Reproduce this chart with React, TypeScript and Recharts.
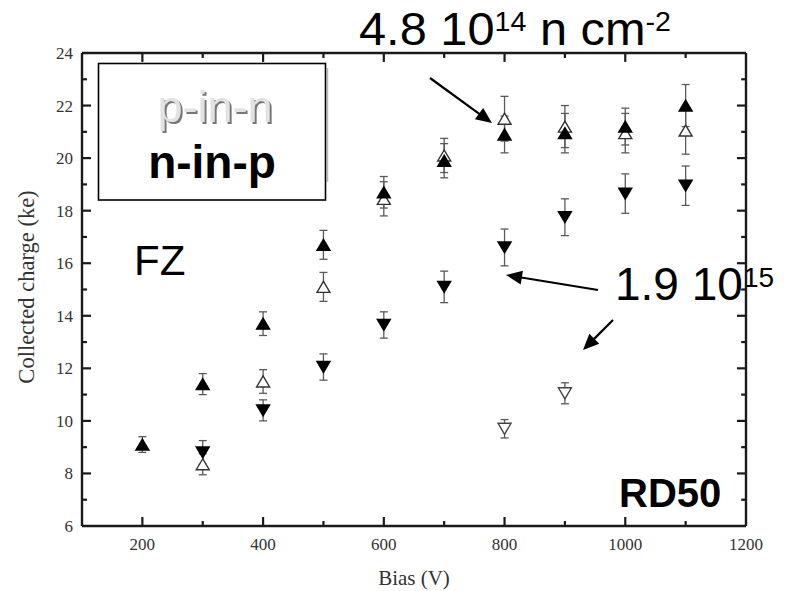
import React from 'react';
import { ScatterChart, Scatter, XAxis, YAxis, ErrorBar, ReferenceLine } from 'recharts';

// n-in-p, 4.8e14 n/cm2 (filled up triangles)
const biasNinP48 = [200, 300, 400, 500, 600, 700, 800, 900, 1000, 1100];
const chargeNinP48 = [9.1, 11.4, 13.7, 16.7, 18.7, 19.9, 20.9, 20.95, 21.2, 22.0];
const errNinP48 = [0.3, 0.4, 0.45, 0.55, 0.6, 0.65, 0.7, 0.75, 0.7, 0.8];

// p-in-n, 4.8e14 n/cm2 (open up triangles)
const biasPinN48 = [300, 400, 500, 600, 700, 800, 900, 1000, 1100];
const chargePinN48 = [8.35, 11.5, 15.1, 18.45, 20.1, 21.5, 21.2, 20.95, 21.05];
const errPinN48 = [0.4, 0.45, 0.55, 0.65, 0.65, 0.85, 0.8, 0.75, 0.9];

// n-in-p, 1.9e15 n/cm2 (filled down triangles)
const biasNinP19 = [300, 400, 500, 600, 700, 800, 900, 1000, 1100];
const chargeNinP19 = [8.8, 10.4, 12.05, 13.65, 15.1, 16.6, 17.75, 18.65, 18.95];
const errNinP19 = [0.45, 0.4, 0.5, 0.5, 0.6, 0.7, 0.7, 0.75, 0.75];

// p-in-n, 1.9e15 n/cm2 (open down triangles)
const biasPinN19 = [800, 900];
const chargePinN19 = [9.7, 11.05];
const errPinN19 = [0.35, 0.4];

const X_MIN = 100;
const X_MAX = 1200;
const Y_MIN = 6;
const Y_MAX = 24;
const xTicks = [100, 200, 300, 400, 500, 600, 700, 800, 900, 1000, 1100, 1200];
const xLabels = [200, 400, 600, 800, 1000, 1200];
const yTicks = [6, 7, 8, 9, 10, 11, 12, 13, 14, 15, 16, 17, 18, 19, 20, 21, 22, 23, 24];
const yLabels = [6, 8, 10, 12, 14, 16, 18, 20, 22, 24];

const build = (xs: number[], ys: number[], es: number[]) =>
  xs.map((x, i) => ({ x, y: ys[i], err: es[i] }));

const dNinP48 = build(biasNinP48, chargeNinP48, errNinP48);
const dPinN48 = build(biasPinN48, chargePinN48, errPinN48);
const dNinP19 = build(biasNinP19, chargeNinP19, errNinP19);
const dPinN19 = build(biasPinN19, chargePinN19, errPinN19);

const FRAME = '#1a1a1a';
const FRAME_W = 2.4;
const TICK_W = 2.2;
const W = 13;
const H = 11;
const MAJOR_PX = 9;
const MINOR_PX = 5;

// tick lengths for the top/right frame expressed in axis units (~9 px / ~5 px)
const X_TICK_MAJOR = 15;
const X_TICK_MINOR = 8;
const Y_TICK_MAJOR = 0.34;
const Y_TICK_MINOR = 0.19;

const innerXTicks = xTicks.filter((v) => v > X_MIN && v < X_MAX);
const innerYTicks = yTicks.filter((v) => v > Y_MIN && v < Y_MAX);

const makeTri = (up: boolean, fill: string, stroke: string) => (props: any) => {
  const { cx, cy } = props;
  if (cx == null || cy == null) return <g />;
  const pts = up
    ? `${cx},${cy - H / 2} ${cx - W / 2},${cy + H / 2} ${cx + W / 2},${cy + H / 2}`
    : `${cx},${cy + H / 2} ${cx - W / 2},${cy - H / 2} ${cx + W / 2},${cy - H / 2}`;
  return <polygon points={pts} fill={fill} stroke={stroke} strokeWidth={1.4} strokeLinejoin="miter" />;
};

const SERIF = "'Liberation Serif', 'Times New Roman', serif";
const SANS = "'Liberation Sans', Arial, sans-serif";
const BAR = '#5a5a5a';

const bottomTick = (props: any) => {
  const { x, y, payload } = props;
  const v = payload.value;
  const major = xLabels.includes(v);
  return (
    <g>
      {v > X_MIN && v < X_MAX && (
        <line x1={x} y1={y} x2={x} y2={y - (major ? MAJOR_PX : MINOR_PX)} stroke={FRAME} strokeWidth={TICK_W} />
      )}
      {major && (
        <text x={x} y={y + 24} textAnchor="middle" fontFamily={SERIF} fontSize={17} fill="#333">
          {v}
        </text>
      )}
    </g>
  );
};

const leftTick = (props: any) => {
  const { x, y, payload } = props;
  const v = payload.value;
  const major = yLabels.includes(v);
  return (
    <g>
      {v > Y_MIN && v < Y_MAX && (
        <line x1={x} y1={y} x2={x + (major ? MAJOR_PX : MINOR_PX)} y2={y} stroke={FRAME} strokeWidth={TICK_W} />
      )}
      {major && (
        <text x={x - 9} y={y} dy="0.35em" textAnchor="end" fontFamily={SERIF} fontSize={17} fill="#333">
          {v}
        </text>
      )}
    </g>
  );
};

const Arrow = ({ x1, y1, x2, y2 }: { x1: number; y1: number; x2: number; y2: number }) => {
  const dx = x2 - x1;
  const dy = y2 - y1;
  const L = Math.sqrt(dx * dx + dy * dy);
  const ux = dx / L;
  const uy = dy / L;
  const hl = 16;
  const hw = 7;
  const bx = x2 - ux * hl;
  const by = y2 - uy * hl;
  const p1 = `${x2},${y2}`;
  const p2 = `${bx - uy * hw},${by + ux * hw}`;
  const p3 = `${bx + uy * hw},${by - ux * hw}`;
  return (
    <g>
      <line x1={x1} y1={y1} x2={bx + ux * 2} y2={by + uy * 2} stroke="#000" strokeWidth={2.2} />
      <polygon points={`${p1} ${p2} ${p3}`} fill="#000" />
    </g>
  );
};

export default function App() {
  const tickLines: React.ReactNode[] = [];
  innerXTicks.forEach((v) => {
    const len = xLabels.includes(v) ? Y_TICK_MAJOR : Y_TICK_MINOR;
    tickLines.push(
      <ReferenceLine
        key={`xt${v}`}
        segment={[{ x: v, y: Y_MAX }, { x: v, y: Y_MAX - len }]}
        stroke={FRAME}
        strokeWidth={TICK_W}
        ifOverflow="visible"
      />
    );
  });
  innerYTicks.forEach((v) => {
    const len = yLabels.includes(v) ? X_TICK_MAJOR : X_TICK_MINOR;
    tickLines.push(
      <ReferenceLine
        key={`yr${v}`}
        segment={[{ x: X_MAX, y: v }, { x: X_MAX - len, y: v }]}
        stroke={FRAME}
        strokeWidth={TICK_W}
        ifOverflow="visible"
      />
    );
  });

  return (
    <div style={{ position: 'absolute', left: 0, top: 0, width: 785, height: 591, background: '#fff' }}>
      <svg width={785} height={591} style={{ position: 'absolute', left: 0, top: 0 }}>
        <defs>
          <filter id="emboss" x="-10%" y="-10%" width="130%" height="130%">
            <feDropShadow dx={2} dy={2} stdDeviation={0.4} floodColor="#777" floodOpacity={1} />
          </filter>
        </defs>
        {/* axis titles */}
        <text x={414} y={585} textAnchor="middle" fontFamily={SERIF} fontSize={21} fill="#333">
          Bias (V)
        </text>
        <text
          x={0}
          y={0}
          transform="translate(34,287) rotate(-90)"
          textAnchor="middle"
          fontFamily={SERIF}
          fontSize={22.5}
          fill="#333"
        >
          Collected charge (ke)
        </text>
        {/* legend box */}
        <line x1={327.5} y1={68} x2={327.5} y2={182} stroke="#bbb" strokeWidth={1.5} />
        <rect x={98.5} y={63.5} width={227} height={136.5} fill="#fff" stroke="#000" strokeWidth={1.6} />
        <text x={215} y={122} textAnchor="middle" fontFamily={SANS} fontSize={45} fill="#e2e2e2" filter="url(#emboss)">
          p-in-n
        </text>
        <text x={212} y={178} textAnchor="middle" fontFamily={SANS} fontSize={46} fontWeight="bold" fill="#000">
          n-in-p
        </text>
        {/* FZ */}
        <text x={134} y={275} fontFamily={SANS} fontSize={42} fill="#000">
          FZ
        </text>
        {/* RD50 */}
        <text x={619} y={507} fontFamily={SANS} fontSize={40} fontWeight="bold" fill="#000">
          RD50
        </text>
        {/* top fluence label */}
        <text x={0} y={0} transform="translate(359,45) scale(1.06,1)" fontFamily={SANS} fontSize={46} fill="#000">
          4.8 10
          <tspan fontSize={27} dy={-14}>14</tspan>
          <tspan dy={14}> n cm</tspan>
          <tspan fontSize={27} dy={-14}>-2</tspan>
        </text>
        <Arrow x1={430} y1={78} x2={492} y2={123} />
        {/* second fluence label */}
        <text x={615} y={300} fontFamily={SANS} fontSize={46} fill="#000">
          1.9 10
          <tspan fontSize={28} dy={-13}>15</tspan>
        </text>
        <Arrow x1={598} y1={290} x2={506} y2={275} />
        <Arrow x1={613} y1={320} x2={583} y2={350} />
      </svg>
      <div style={{ position: 'absolute', left: 0, top: 0 }}>
        <ScatterChart width={785} height={591} margin={{ top: 53, right: 39, bottom: 0, left: 0 }}>
          <XAxis
            type="number"
            dataKey="x"
            domain={[X_MIN, X_MAX]}
            ticks={xTicks}
            interval={0}
            height={65}
            tickSize={0}
            tickMargin={0}
            tickLine={false}
            axisLine={{ stroke: FRAME, strokeWidth: FRAME_W }}
            tick={bottomTick}
          />
          <YAxis
            type="number"
            dataKey="y"
            domain={[Y_MIN, Y_MAX]}
            ticks={yTicks}
            interval={0}
            width={82}
            tickSize={0}
            tickMargin={0}
            tickLine={false}
            axisLine={{ stroke: FRAME, strokeWidth: FRAME_W }}
            tick={leftTick}
          />
          {tickLines}
          <ReferenceLine x={X_MAX} stroke={FRAME} strokeWidth={FRAME_W} ifOverflow="visible" />
          <ReferenceLine y={Y_MAX} stroke={FRAME} strokeWidth={FRAME_W} ifOverflow="visible" />
          <Scatter name="n-in-p 1.9e15" data={dNinP19} isAnimationActive={false} shape={makeTri(false, '#000', '#000')}>
            <ErrorBar dataKey="err" direction="y" width={4} stroke={BAR} strokeWidth={1.3} />
          </Scatter>
          <Scatter name="p-in-n 1.9e15" data={dPinN19} isAnimationActive={false} shape={makeTri(false, '#fff', '#444')}>
            <ErrorBar dataKey="err" direction="y" width={4} stroke={BAR} strokeWidth={1.3} />
          </Scatter>
          <Scatter name="p-in-n 4.8e14" data={dPinN48} isAnimationActive={false} shape={makeTri(true, '#fff', '#333')}>
            <ErrorBar dataKey="err" direction="y" width={4} stroke={BAR} strokeWidth={1.3} />
          </Scatter>
          <Scatter name="n-in-p 4.8e14" data={dNinP48} isAnimationActive={false} shape={makeTri(true, '#000', '#000')}>
            <ErrorBar dataKey="err" direction="y" width={4} stroke={BAR} strokeWidth={1.3} />
          </Scatter>
        </ScatterChart>
      </div>
    </div>
  );
}
